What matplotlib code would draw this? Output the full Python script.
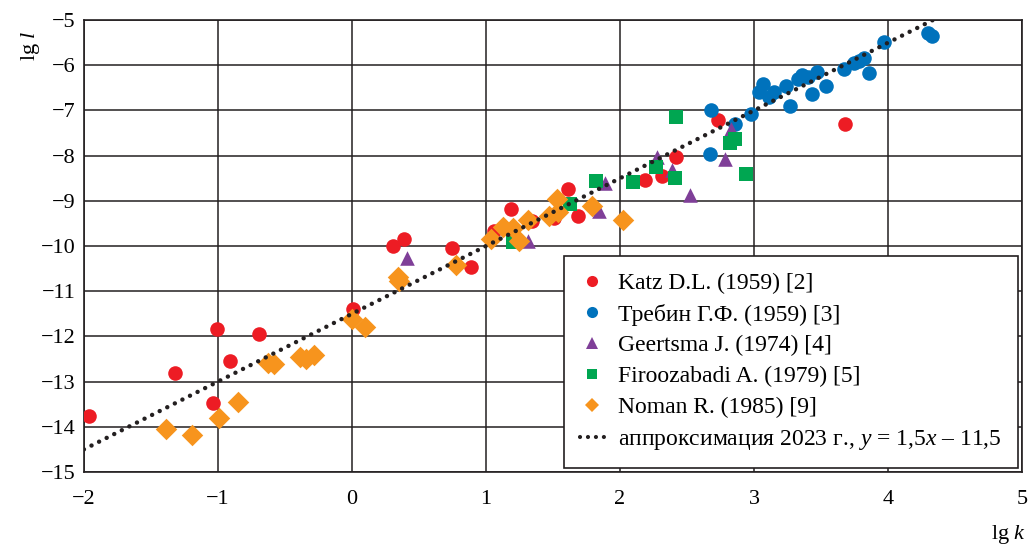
import numpy as np
import matplotlib.pyplot as plt
from matplotlib.lines import Line2D

plt.rcParams['font.family'] = ['Liberation Serif', 'DejaVu Serif']
plt.rcParams['mathtext.fontset'] = 'custom'
plt.rcParams['mathtext.it'] = 'Liberation Serif:italic'
plt.rcParams['mathtext.rm'] = 'Liberation Serif'

# lg k, lg l for each data source
katz_x = [-1.96, -1.32, -1.01, -0.91, -1.04, -0.69, 0.01, 0.31, 0.39, 0.75, 0.89,
          1.06, 1.19, 1.34, 1.51, 1.61, 1.69, 2.19, 2.31, 2.42, 2.73, 3.68]
katz_y = [-13.77, -12.82, -11.83, -12.55, -13.48, -11.95, -11.40, -9.99, -9.85, -10.04, -10.46,
          -9.67, -9.18, -9.45, -9.38, -8.74, -9.34, -8.54, -8.45, -8.03, -7.21, -7.30]

trebin_x = [2.68, 2.67, 2.86, 2.98, 3.04, 3.07, 3.11, 3.15, 3.24, 3.27, 3.33, 3.36,
            3.40, 3.43, 3.47, 3.54, 3.67, 3.75, 3.78, 3.82, 3.86, 3.97, 4.30, 4.33]
trebin_y = [-6.99, -7.97, -7.30, -7.08, -6.60, -6.42, -6.71, -6.60, -6.46, -6.90, -6.30, -6.22,
            -6.26, -6.64, -6.15, -6.46, -6.08, -5.95, -5.91, -5.83, -6.17, -5.49, -5.28, -5.35]

geertsma_x = [0.41, 1.31, 1.84, 1.89, 2.28, 2.39, 2.52, 2.78, 2.83]
geertsma_y = [-10.27, -9.89, -9.23, -8.61, -8.03, -8.32, -8.87, -8.08, -7.41]

firooz_x = [1.20, 1.63, 1.82, 2.10, 2.27, 2.41, 2.42, 2.82, 2.86, 2.94]
firooz_y = [-9.91, -9.08, -8.56, -8.58, -8.25, -8.50, -7.15, -7.72, -7.63, -8.40]

noman_x = [-1.39, -1.19, -0.99, -0.85, -0.63, -0.58, -0.39, -0.34, -0.28, 0.00, 0.10,
           0.34, 0.35, 0.78, 1.04, 1.13, 1.20, 1.25, 1.31, 1.47, 1.53, 1.54, 1.79, 2.02]
noman_y = [-14.05, -14.18, -13.80, -13.45, -12.59, -12.61, -12.46, -12.50, -12.41, -11.62, -11.79,
           -10.69, -10.78, -10.42, -9.85, -9.58, -9.60, -9.89, -9.42, -9.34, -8.96, -9.25, -9.11, -9.43]

# approximation y = 1.5x - 11.5
fit_a = 1.5
fit_b = -11.5
fit_x = np.linspace(-2, (-5 - fit_b) / fit_a, 200)

fig = plt.figure(figsize=(10.36, 5.44), dpi=100)
ax = fig.add_axes([0.081, 0.1324, 0.9055, 0.8306])

ax.scatter(katz_x, katz_y, s=110, marker='o', color='#ED1C24', linewidths=0, zorder=3)
ax.scatter(trebin_x, trebin_y, s=110, marker='o', color='#0072BC', linewidths=0, zorder=3)
ax.scatter(geertsma_x, geertsma_y, s=110, marker='^', color='#7F3F98', linewidths=0, zorder=3)
ax.scatter(firooz_x, firooz_y, s=110, marker='s', color='#00A651', linewidths=0, zorder=3)
ax.scatter(noman_x, noman_y, s=120, marker='D', color='#F7941D', linewidths=0, zorder=3)
ax.plot(fit_x, fit_a * fit_x + fit_b, color='#231F20', lw=3.2,
        linestyle=(0, (0.01, 1.9)), dash_capstyle='round', zorder=4)

ax.set_xlim(-2, 5)
ax.set_ylim(-15, -5)
ax.set_xticks(range(-2, 6))
ax.set_yticks(range(-15, -4))
ax.set_xticklabels([str(v).replace('-', '\u2212') for v in range(-2, 6)])
ax.set_yticklabels([str(v).replace('-', '\u2212') for v in range(-15, -4)])
ax.tick_params(length=0, labelsize=16)
ax.tick_params(axis='x', pad=13)
ax.tick_params(axis='y', pad=6)
ax.grid(True, color='#231F20', lw=1.1)
ax.set_axisbelow(True)
for sp in ax.spines.values():
    sp.set_color('#231F20')
    sp.set_linewidth(1.2)

fig.text(0.957, 0.01, 'lg $k$', fontsize=16)
fig.text(0.018, 0.9, 'lg $l$', fontsize=16, rotation=90)

handles = [
    Line2D([], [], ls='none', marker='o', ms=8, color='#ED1C24', mew=0),
    Line2D([], [], ls='none', marker='o', ms=8, color='#0072BC', mew=0),
    Line2D([], [], ls='none', marker='^', ms=8, color='#7F3F98', mew=0),
    Line2D([], [], ls='none', marker='s', ms=7.5, color='#00A651', mew=0),
    Line2D([], [], ls='none', marker='D', ms=7, color='#F7941D', mew=0),
    Line2D([], [], color='#231F20', lw=3, linestyle=(0, (0.01, 1.9)), dash_capstyle='round'),
]
labels = [
    'Katz D.L. (1959) [2]',
    'Требин Г.Ф. (1959) [3]',
    'Geertsma J. (1974) [4]',
    'Firoozabadi A. (1979) [5]',
    'Noman R. (1985) [9]',
    'аппроксимация 2023 г., $y$ = 1,5$x$ – 11,5',
]
leg = ax.legend(handles, labels, loc='lower right', fontsize=17, frameon=True,
                fancybox=False, edgecolor='#231F20', framealpha=1,
                handlelength=1.0, handletextpad=0.6, labelspacing=0.4,
                borderpad=0.7, borderaxespad=0.15)
leg.get_frame().set_linewidth(1.2)
leg.set_zorder(5)

plt.savefig('out.png', dpi=100)
